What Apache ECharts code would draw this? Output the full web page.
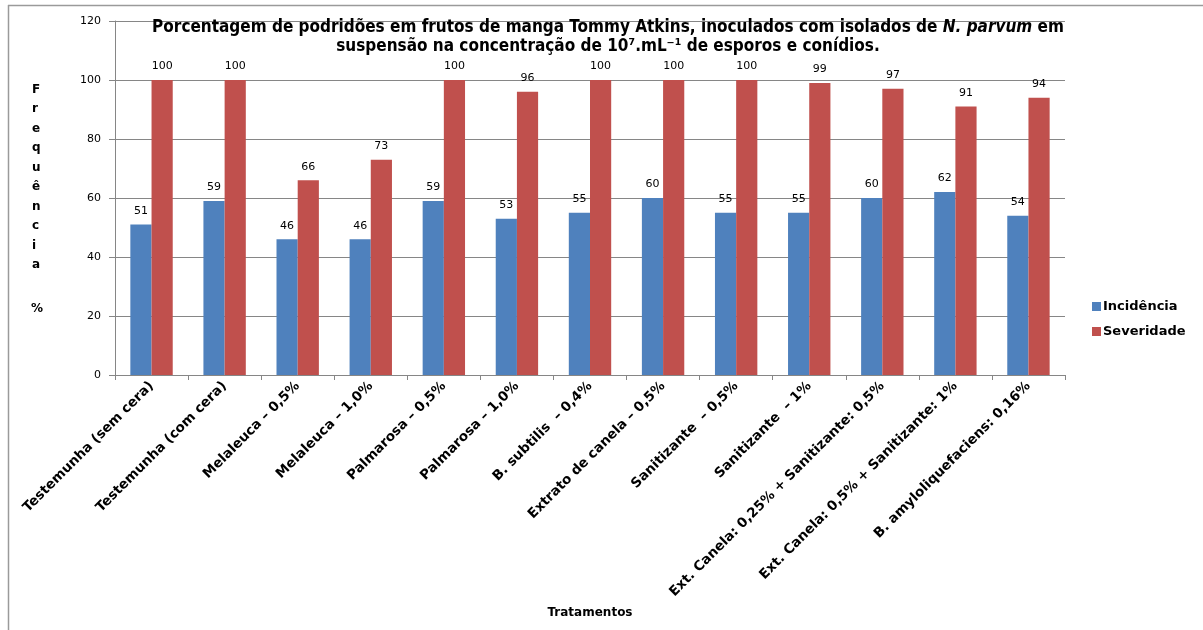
<!DOCTYPE html>
<html>
<head>
<meta charset="utf-8">
<script src="https://cdn.jsdelivr.net/npm/echarts@6/dist/echarts.min.js"></script>
<style>
  html, body { margin: 0; padding: 0; background: #fff; }
  #chart { width: 1203px; height: 630px; }
</style>
</head>
<body>
<div id="chart"></div>
<script>
const categories = [
  'Testemunha (sem cera)', 'Testemunha (com cera)', 'Melaleuca – 0,5%', 'Melaleuca – 1,0%',
  'Palmarosa – 0,5%', 'Palmarosa – 1,0%', 'B. subtilis  – 0,4%', 'Extrato de canela – 0,5%',
  'Sanitizante  – 0,5%', 'Sanitizante  – 1%', 'Ext. Canela: 0,25% + Sanitizante: 0,5%',
  'Ext. Canela: 0,5% + Sanitizante: 1%', 'B. amyloliquefaciens: 0,16%'
]
const incidencia = [51, 59, 46, 46, 59, 53, 55, 60, 55, 55, 60, 62, 54]
const severidade = [100, 100, 66, 73, 100, 96, 100, 100, 100, 99, 97, 91, 94]

const chart = echarts.init(document.getElementById('chart'))
const font = '"DejaVu Sans", Verdana, sans-serif'
const narrow = '"Liberation Sans Narrow", "Arial Narrow", "DejaVu Sans Condensed", Arial, sans-serif'

const barLabel = {
  show: true,
  position: 'top',
  distance: 8,
  color: '#000',
  fontSize: 11,
  fontFamily: font
}

const option = {
  animation: false,
  backgroundColor: '#fff',
  color: ['#4F81BD', '#C0504D'],
  title: {
    text: '{b|Porcentagem de podridões em frutos de manga Tommy Atkins, inoculados com isolados de }{i|N. parvum}{b| em}\n{b|suspensão na concentração de 10⁷.mL⁻¹ de esporos e conídios.}',
    left: 603,
    top: 13,
    textAlign: 'center',
    textStyle: {
      rich: {
        b: { fontFamily: narrow, fontWeight: 'bold', fontSize: 17, color: '#000', lineHeight: 19 },
        i: { fontFamily: narrow, fontWeight: 'bold', fontStyle: 'italic', fontSize: 17, color: '#000', lineHeight: 19 }
      }
    }
  },
  legend: {
    orient: 'vertical',
    left: 1087,
    top: 295,
    itemWidth: 9,
    itemHeight: 9,
    itemGap: 12,
    icon: 'rect',
    textStyle: { fontFamily: font, fontWeight: 'bold', fontSize: 13, color: '#000', padding: [0, 0, 0, -3] },
    data: ['Incidência', 'Severidade']
  },
  grid: { left: 115, right: 138, top: 21, bottom: 255 },
  xAxis: {
    type: 'category',
    data: categories,
    name: 'Tratamentos',
    nameLocation: 'middle',
    nameGap: 232,
    nameTextStyle: { fontFamily: font, fontWeight: 'bold', fontSize: 12, color: '#000' },
    axisLine: { lineStyle: { color: '#868686', width: 1 } },
    axisTick: { show: true, length: 5, lineStyle: { color: '#868686' } },
    axisLabel: {
      interval: 0,
      rotate: 45,
      margin: 9,
      fontFamily: font,
      fontWeight: 'bold',
      fontSize: 13.5,
      color: '#000'
    }
  },
  yAxis: {
    type: 'value',
    min: 0,
    max: 120,
    interval: 20,
    axisLine: { show: true, lineStyle: { color: '#868686' } },
    axisTick: { show: true, length: 6, lineStyle: { color: '#868686' } },
    axisLabel: { fontFamily: font, fontSize: 11, color: '#000', margin: 14 },
    splitLine: { lineStyle: { color: '#868686', width: 1 } }
  },
  series: [
    {
      name: 'Incidência',
      type: 'bar',
      data: incidencia,
      barGap: '0%',
      barCategoryGap: '42%',
      label: barLabel
    },
    {
      name: 'Severidade',
      type: 'bar',
      data: severidade,
      label: barLabel
    }
  ],
  graphic: [
    {
      type: 'text',
      left: 32,
      top: 80,
      style: {
        text: 'F\nr\ne\nq\nu\nê\nn\nc\ni\na',
        font: 'bold 12px ' + font,
        fill: '#000',
        lineHeight: 19.5,
        align: 'center',
        width: 12
      }
    },
    {
      type: 'text',
      left: 31,
      top: 303,
      style: { text: '%', font: 'bold 12px ' + font, fill: '#000' }
    },
    {
      type: 'line',
      shape: { x1: 8.5, y1: 5, x2: 8.5, y2: 630 },
      style: { stroke: '#9a9a9a', lineWidth: 1.5 }
    },
    {
      type: 'line',
      shape: { x1: 8, y1: 5.5, x2: 1203, y2: 5.5 },
      style: { stroke: '#9a9a9a', lineWidth: 1.5 }
    }
  ]
}

chart.setOption(option)
</script>
</body>
</html>
